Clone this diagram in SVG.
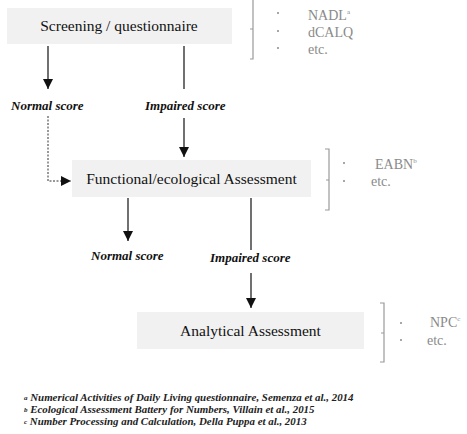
<svg xmlns="http://www.w3.org/2000/svg" width="467" height="434" viewBox="0 0 467 434">
<style>
text{font-family:'Liberation Serif','Times New Roman',Tinos,'DejaVu Serif','Noto Serif',serif}
.box{fill:#f1f1f1;stroke:none}
.ttl{font-size:15.5px;fill:#111;text-anchor:middle}
.lbl{font-size:13px;font-weight:bold;font-style:italic;fill:#111}
.gray{font-size:14px;fill:#8a8a8a}
.sup{font-size:7px}
.brk{fill:none;stroke:#9a9a9a;stroke-width:1.2}
.dot{fill:#8a8a8a}
.ln{stroke:#111;stroke-width:1.2;fill:none}
.dash{stroke:#333;stroke-width:1;fill:none;stroke-dasharray:2 1.5}
.fn{font-size:10.9px;font-weight:bold;font-style:italic;fill:#222}
</style>
<defs>
<marker id="ahl" viewBox="0 0 10 10" refX="10" refY="5" markerWidth="10" markerHeight="10" markerUnits="userSpaceOnUse" orient="auto">
<path d="M0,0 L10,5 L0,10 z" fill="#111"/>
</marker>
</defs>
<rect width="467" height="434" fill="#fff"/>

<g id="screening">
<rect class="box" x="7" y="8" width="225" height="36"/>
<text class="ttl" x="119" y="31">Screening / questionnaire</text>
</g>
<g id="screening-tools">
<path class="brk" d="M250,-2 L253,-2 L253,59 L250,59 M253,29 L250,29"/>
<circle class="dot" cx="278" cy="13" r="1"/>
<circle class="dot" cx="278" cy="31" r="1"/>
<circle class="dot" cx="278" cy="48" r="1"/>
<text class="gray" x="308" y="20">NADL<tspan class="sup" dy="-6">a</tspan></text>
<text class="gray" x="308" y="37">dCALQ</text>
<text class="gray" x="308" y="54">etc.</text>
</g>

<g id="functional">
<rect class="box" x="72" y="160" width="239" height="37"/>
<text class="ttl" x="191.5" y="184">Functional/ecological Assessment</text>
</g>
<g id="functional-tools">
<path class="brk" d="M325,149 L329,149 L329,210 L325,210 M329,180 L326,180"/>
<circle class="dot" cx="344" cy="163" r="1"/>
<circle class="dot" cx="344" cy="181" r="1"/>
<text class="gray" x="375" y="169">EABN<tspan class="sup" dy="-6">b</tspan></text>
<text class="gray" x="371" y="186">etc.</text>
</g>

<g id="analytical">
<rect class="box" x="137" y="312" width="227" height="37"/>
<text class="ttl" x="250.5" y="336">Analytical Assessment</text>
</g>
<g id="analytical-tools">
<path class="brk" d="M380,303 L384,303 L384,362 L380,362 M384,333 L381,333"/>
<circle class="dot" cx="401" cy="323" r="1"/>
<circle class="dot" cx="401" cy="340" r="1"/>
<text class="gray" x="430" y="327">NPC<tspan class="sup" dy="-6">c</tspan></text>
<text class="gray" x="427" y="345">etc.</text>
</g>

<g id="connectors">
<line class="ln" x1="48" y1="46" x2="48" y2="89" marker-end="url(#ahl)"/>
<line class="ln" x1="184" y1="46" x2="184" y2="89"/>
<line class="ln" x1="184" y1="118" x2="184" y2="157" marker-end="url(#ahl)"/>
<path class="dash" d="M48,116 L48,181 L71,181" marker-end="url(#ahl)"/>
<line class="ln" x1="128" y1="198" x2="128" y2="241" marker-end="url(#ahl)"/>
<line class="ln" x1="251" y1="198" x2="251" y2="250"/>
<line class="ln" x1="251" y1="273" x2="251" y2="308" marker-end="url(#ahl)"/>
</g>

<g id="labels">
<text class="lbl" x="11" y="110">Normal score</text>
<text class="lbl" x="145" y="110">Impaired score</text>
<text class="lbl" x="91" y="260">Normal score</text>
<text class="lbl" x="210" y="262">Impaired score</text>
</g>

<g id="footnotes">
<text class="fn" x="24" y="401"><tspan class="sup" font-size="6" dy="-1">a</tspan><tspan dy="1"> Numerical Activities of Daily Living questionnaire, Semenza et al., 2014</tspan></text>
<text class="fn" x="24" y="413"><tspan class="sup" font-size="6" dy="-1">b</tspan><tspan dy="1"> Ecological Assessment Battery for Numbers, Villain et al., 2015</tspan></text>
<text class="fn" x="24" y="425"><tspan class="sup" font-size="6" dy="-1">c</tspan><tspan dy="1"> Number Processing and Calculation, Della Puppa et al., 2013</tspan></text>
</g>
</svg>
